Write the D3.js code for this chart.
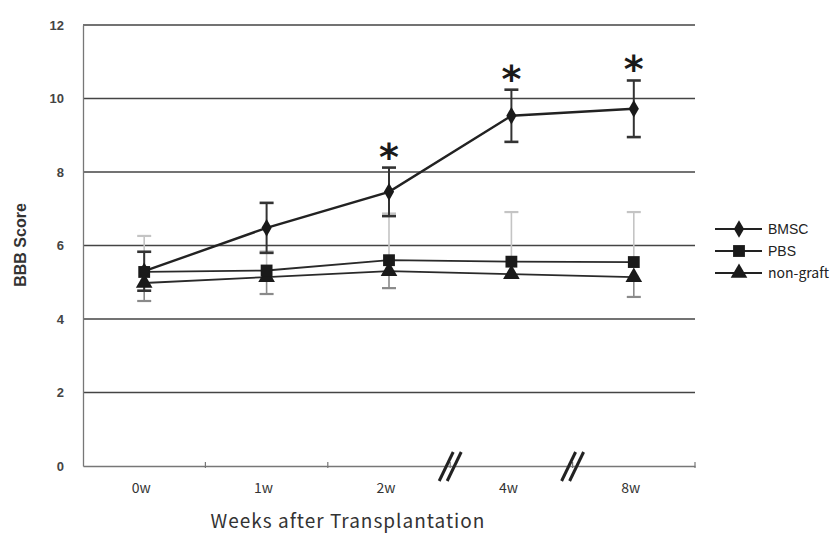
<!DOCTYPE html>
<html><head><meta charset="utf-8">
<script src="https://cdn.jsdelivr.net/npm/d3@7"></script>
<style>body{margin:0;background:#fff}svg{display:block}</style>
</head><body>
<svg id="c" width="836" height="536"></svg>
<script>
const weeks = ["0w","1w","2w","4w","8w"];
const yTicks = [0,2,4,6,8,10,12];
const bmsc = [5.3, 6.48, 7.46, 9.53, 9.72];
const bmscErr = [0.53, 0.68, 0.66, 0.71, 0.77];
const pbs = [5.28, 5.32, 5.6, 5.56, 5.55];
const pbsErr = [0.98, 0.52, 1.27, 1.35, 1.36];
const ngraft = [4.98, 5.14, 5.3, 5.22, 5.14];
const ngraftErr = [0.49, 0.46, 0.46, 0.1, 0.54];
const sig = [false, false, true, true, true];
const seriesNames = ["BMSC","PBS","non-graft"];

const svg = d3.select("#c");
const L = 83, R = 695, T = 25, B = 466;
const x = d3.scaleBand().domain(weeks).range([L, R]);
const y = d3.scaleLinear().domain([0, 12]).range([B, T]);
const cx = d => x(d) + x.bandwidth()/2;

// gridlines
svg.append("g").selectAll("line").data(yTicks.filter(t => t > 0)).join("line")
  .attr("x1", L).attr("x2", R).attr("y1", d => y(d)).attr("y2", d => y(d))
  .attr("stroke", "#444").attr("stroke-width", 1.3);

// y axis
const ya = svg.append("g").attr("transform", `translate(${L},0)`)
  .call(d3.axisLeft(y).tickValues(yTicks).tickSize(0).tickPadding(19));
ya.select(".domain").attr("stroke", "#777").attr("stroke-width", 1.3);
ya.selectAll("text").attr("font-family", "Liberation Sans, Arial, sans-serif")
  .attr("font-size", 13).attr("font-weight", "bold").attr("fill", "#444");

// x axis
const xa = svg.append("g").attr("transform", `translate(0,${B})`)
  .call(d3.axisBottom(x).tickSize(0).tickPadding(17));
xa.select(".domain").attr("stroke", "#777").attr("stroke-width", 1.3);
xa.selectAll("text").attr("font-family", "Noto Sans CJK JP, sans-serif")
  .attr("font-size", 14).attr("fill", "#333").attr("dx", -3);
// boundary ticks
const bounds = weeks.slice(1).map(w => x(w)).concat([R]);
svg.append("g").selectAll("line").data(bounds).join("line")
  .attr("x1", d => d).attr("x2", d => d).attr("y1", B - 4).attr("y2", B + 2)
  .attr("stroke", "#777").attr("stroke-width", 1.2);

// break marks at boundaries 2w/4w and 4w/8w
const breaks = [x("4w"), x("8w")];
const bg = svg.append("g");
breaks.forEach(bx => {
  [-4, 4].forEach(off => {
    bg.append("line")
      .attr("x1", bx + off - 7).attr("y1", B + 15)
      .attr("x2", bx + off + 7).attr("y2", B - 14)
      .attr("stroke", "#222").attr("stroke-width", 3);
  });
});

// error bars
function errBars(vals, errs, color, up, down, cap, w) {
  const g = svg.append("g");
  weeks.forEach((wk, i) => {
    const X = cx(wk);
    const top = up ? vals[i] + errs[i] : vals[i];
    const bot = down ? vals[i] - errs[i] : vals[i];
    g.append("line").attr("x1", X).attr("x2", X).attr("y1", y(top)).attr("y2", y(bot))
      .attr("stroke", color).attr("stroke-width", w);
    if (up) g.append("line").attr("x1", X - cap).attr("x2", X + cap)
      .attr("y1", y(top)).attr("y2", y(top)).attr("stroke", color).attr("stroke-width", w + 0.6);
    if (down) g.append("line").attr("x1", X - cap).attr("x2", X + cap)
      .attr("y1", y(bot)).attr("y2", y(bot)).attr("stroke", color).attr("stroke-width", w + 0.6);
  });
}
errBars(pbs, pbsErr, "#c4c4c4", true, false, 7, 1.6);
errBars(ngraft, ngraftErr, "#8a8a8a", false, true, 7, 1.6);
errBars(bmsc, bmscErr, "#333", true, true, 7, 2);

// lines
const line = d3.line().x((d, i) => cx(weeks[i])).y(d => y(d));
svg.append("path").datum(ngraft).attr("d", line).attr("fill", "none").attr("stroke", "#2a2a2a").attr("stroke-width", 1.8);
svg.append("path").datum(pbs).attr("d", line).attr("fill", "none").attr("stroke", "#2a2a2a").attr("stroke-width", 1.8);
svg.append("path").datum(bmsc).attr("d", line).attr("fill", "none").attr("stroke", "#222").attr("stroke-width", 2.4);

// markers
const symD = d3.symbol().type(d3.symbolDiamond).size(90);
const symS = d3.symbol().type(d3.symbolSquare).size(140);
const symT = d3.symbol().type(d3.symbolTriangle).size(120);
function markers(vals, sym) {
  svg.append("g").selectAll("path").data(vals).join("path")
    .attr("d", sym).attr("transform", (d, i) => `translate(${cx(weeks[i])},${y(d)})`)
    .attr("fill", "#1a1a1a");
}
markers(ngraft, symT);
markers(pbs, symS);
markers(bmsc, symD);

// significance asterisks
svg.append("g").selectAll("text").data(weeks.filter((w, i) => sig[i])).join("text")
  .attr("x", d => cx(d)).attr("y", d => { const i = weeks.indexOf(d); return y(bmsc[i] + bmscErr[i]) + 2; })
  .attr("text-anchor", "middle").attr("font-family", "DejaVu Sans, sans-serif")
  .attr("font-size", 38).attr("font-weight", "bold").attr("fill", "#1a1a1a").text("*");

// legend
const legY = [229, 251, 273];
const syms = [symD, symS, symT];
const lg = svg.append("g");
seriesNames.forEach((n, i) => {
  lg.append("line").attr("x1", 715).attr("x2", 762).attr("y1", legY[i]).attr("y2", legY[i])
    .attr("stroke", "#222").attr("stroke-width", 1.8);
  lg.append("path").attr("d", syms[i]).attr("transform", `translate(739,${legY[i]})`).attr("fill", "#1a1a1a");
  lg.append("text").attr("x", 768).attr("y", legY[i] + 5).text(n)
    .attr("font-family", i === 2 ? "Noto Sans CJK JP, sans-serif" : "Liberation Sans, Arial, sans-serif")
    .attr("font-size", 14).attr("fill", "#222");
});

// axis titles
svg.append("text").attr("transform", "translate(26,245) rotate(-90)")
  .attr("text-anchor", "middle").attr("font-family", "Liberation Sans, Arial, sans-serif")
  .attr("font-size", 16).attr("font-weight", "bold").attr("fill", "#333").text("BBB Score");
svg.append("text").attr("x", 348).attr("y", 528).attr("text-anchor", "middle")
  .attr("font-family", "Noto Sans CJK JP, sans-serif").attr("letter-spacing", 1)
  .attr("font-size", 19).attr("fill", "#333").text("Weeks after Transplantation");
</script>
</body></html>
